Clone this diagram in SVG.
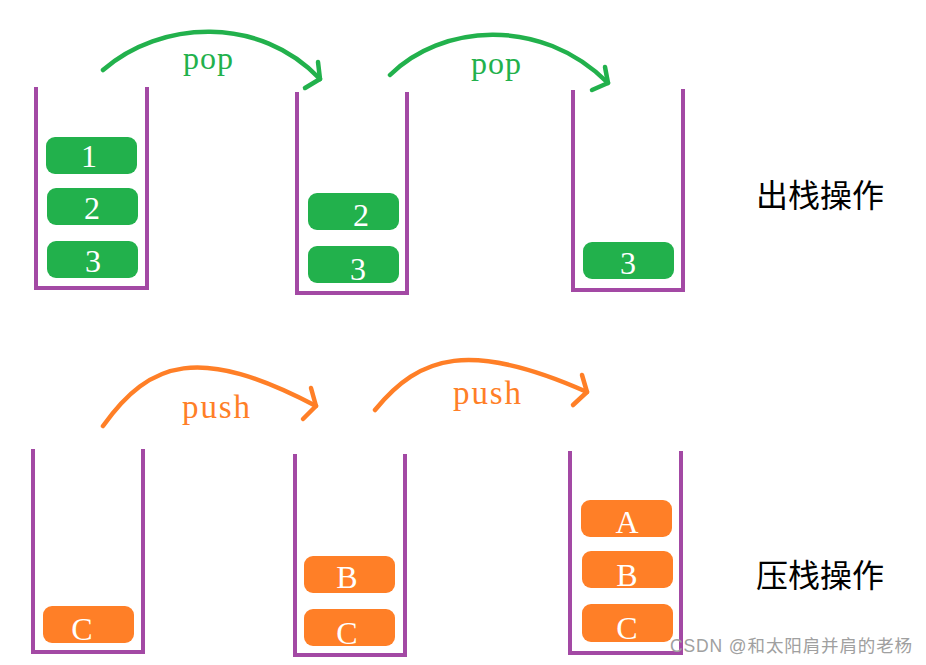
<svg xmlns="http://www.w3.org/2000/svg" width="926" height="665" viewBox="0 0 926 665">
<style>
.wall{fill:none;stroke:#A349A4;stroke-width:4;stroke-linejoin:miter}
.g{fill:#22B14C}
.o{fill:#FF7F27}
.bt{fill:#fff;font-family:"Liberation Serif",serif;font-size:32px;text-anchor:middle}
.ag{fill:none;stroke:#22B14C;stroke-width:4.5;stroke-linecap:round;stroke-linejoin:round}
.ao{fill:none;stroke:#FF7F27;stroke-width:4.5;stroke-linecap:round;stroke-linejoin:round}
.lg{fill:#22B14C;font-family:"Liberation Serif",serif;font-size:32px}
.lo{fill:#FF7F27;font-family:"Liberation Serif",serif;font-size:33px}
.title{fill:#000;font-family:"Noto Sans CJK SC",sans-serif;font-size:32px}
.wm{fill:#a0a0a0;font-family:"Liberation Sans","Noto Sans CJK SC",sans-serif;font-size:17.5px}
</style>
<rect width="926" height="665" fill="#fff"/>
<g id="connectors">
<g id="pop1"><path class="ag" d="M103,70 C160,20 260,15 320,79"/><path class="ag" d="M318,62 L320,79 L305,88"/></g>
<g id="pop2"><path class="ag" d="M390,75 C440,25 540,15 608,83"/><path class="ag" d="M605,67 L608,83 L592,90"/></g>
<g id="push1"><path class="ao" d="M103,426 C150,360 200,345 316,406"/><path class="ao" d="M311,388 L316,406 L303,419"/></g>
<g id="push2"><path class="ao" d="M375,410 C420,355 470,340 587,392"/><path class="ao" d="M582,375 L587,392 L573,405"/></g>
</g>
<text class="lg" x="183" y="69" textLength="50">pop</text>
<text class="lg" x="471" y="74" textLength="50">pop</text>
<text class="lo" x="182" y="418" textLength="68">push</text>
<text class="lo" x="453" y="404" textLength="68">push</text>
<g id="stack-pop-1">
<path class="wall" d="M36,87 V288 H147 V87"/>
<rect class="g" x="46" y="137" width="91" height="37" rx="9"/><text class="bt" x="89" y="167">1</text>
<rect class="g" x="47" y="188" width="91" height="37" rx="9"/><text class="bt" x="92" y="219">2</text>
<rect class="g" x="47" y="241" width="91" height="37" rx="9"/><text class="bt" x="93" y="272">3</text>
</g>
<g id="stack-pop-2">
<path class="wall" d="M297,92 V293 H407 V92"/>
<rect class="g" x="308" y="193" width="91" height="37" rx="9"/><text class="bt" x="361" y="226">2</text>
<rect class="g" x="308" y="246" width="91" height="37" rx="9"/><text class="bt" x="358" y="280">3</text>
</g>
<g id="stack-pop-3">
<path class="wall" d="M573,90 V290 H683 V89"/>
<rect class="g" x="583" y="242" width="91" height="37" rx="9"/><text class="bt" x="628" y="274">3</text>
</g>
<g id="stack-push-1">
<path class="wall" d="M33,449 V652 H143 V449"/>
<rect class="o" x="43" y="606" width="91" height="37" rx="9"/><text class="bt" x="82" y="640">C</text>
</g>
<g id="stack-push-2">
<path class="wall" d="M295,454 V655 H405 V454"/>
<rect class="o" x="304" y="556" width="91" height="37" rx="9"/><text class="bt" x="347" y="588">B</text>
<rect class="o" x="304" y="609" width="91" height="37" rx="9"/><text class="bt" x="347" y="644">C</text>
</g>
<g id="stack-push-3">
<path class="wall" d="M570,451 V653 H681 V451"/>
<rect class="o" x="581" y="500" width="91" height="37" rx="9"/><text class="bt" x="627" y="533">A</text>
<rect class="o" x="582" y="551" width="91" height="37" rx="9"/><text class="bt" x="627" y="586">B</text>
<rect class="o" x="582" y="604" width="91" height="38" rx="9"/><text class="bt" x="627" y="639">C</text>
</g>
<text class="title" x="756" y="207">出栈操作</text>
<text class="title" x="756" y="587">压栈操作</text>
<text class="wm" x="670" y="652" textLength="242">CSDN @和太阳肩并肩的老杨</text>
</svg>
